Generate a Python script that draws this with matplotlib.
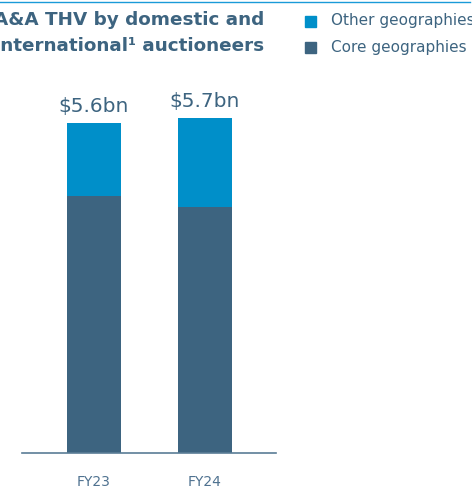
import numpy as np
import matplotlib.pyplot as plt

# A&A total hammer value split by geography (US$ bn)
years = ['FY23', 'FY24']
core = [4.37, 4.18]
other = [1.23, 1.52]
totals = ['$5.6bn', '$5.7bn']

core_color = '#3d6480'
other_color = '#008fc9'
text_color = '#3d6480'

plt.rcParams['font.family'] = 'DejaVu Sans'

W, H = 472, 486
fig = plt.figure(figsize=(W / 100, H / 100), dpi=100)

# thin rule along the top
fig.add_artist(plt.Line2D([0, 470 / W], [1 - 2 / H, 1 - 2 / H], color='#1a9ad8', lw=1.0))

fig.text(-6 / W, 1 - 20 / H, 'A&A THV by domestic and', fontsize=13.2, fontweight='bold',
         color=text_color, va='center', ha='left')
fig.text(-6 / W, 1 - 46 / H, 'international\u00b9 auctioneers', fontsize=13.2, fontweight='bold',
         color=text_color, va='center', ha='left')

# legend drawn by hand
for yy, col, lab in [(21, other_color, 'Other geographies'), (47, core_color, 'Core geographies')]:
    fig.patches.append(plt.Rectangle((305 / W, 1 - (yy + 6) / H), 11 / W, 11 / H,
                                     transform=fig.transFigure, color=col))
    fig.text(331 / W, 1 - yy / H, lab, fontsize=11, color=text_color, va='center', ha='left')

ax = fig.add_axes([22 / W, 33 / H, 254 / W, 363 / H])
x = np.arange(len(years))
ax.bar(x, core, width=0.486, color=core_color)
ax.bar(x, other, width=0.486, bottom=core, color=other_color)

for i, t in enumerate(totals):
    ax.annotate(t, (x[i], core[i] + other[i]), xytext=(0, 5), textcoords='offset points',
                ha='center', va='bottom', fontsize=14.5, color=text_color)

ax.set_xlim(-0.649, 1.640)
ax.set_ylim(0, 363 / 58.85)
ax.set_xticks(x)
ax.set_xticklabels(years, fontsize=10, color='#4f7290')
ax.tick_params(axis='x', length=0, pad=15.5)
ax.set_yticks([])
for s in ['top', 'right', 'left']:
    ax.spines[s].set_visible(False)
ax.spines['bottom'].set_color('#5a7d96')
ax.spines['bottom'].set_linewidth(1.2)

fig.savefig('out.png', dpi=100)
